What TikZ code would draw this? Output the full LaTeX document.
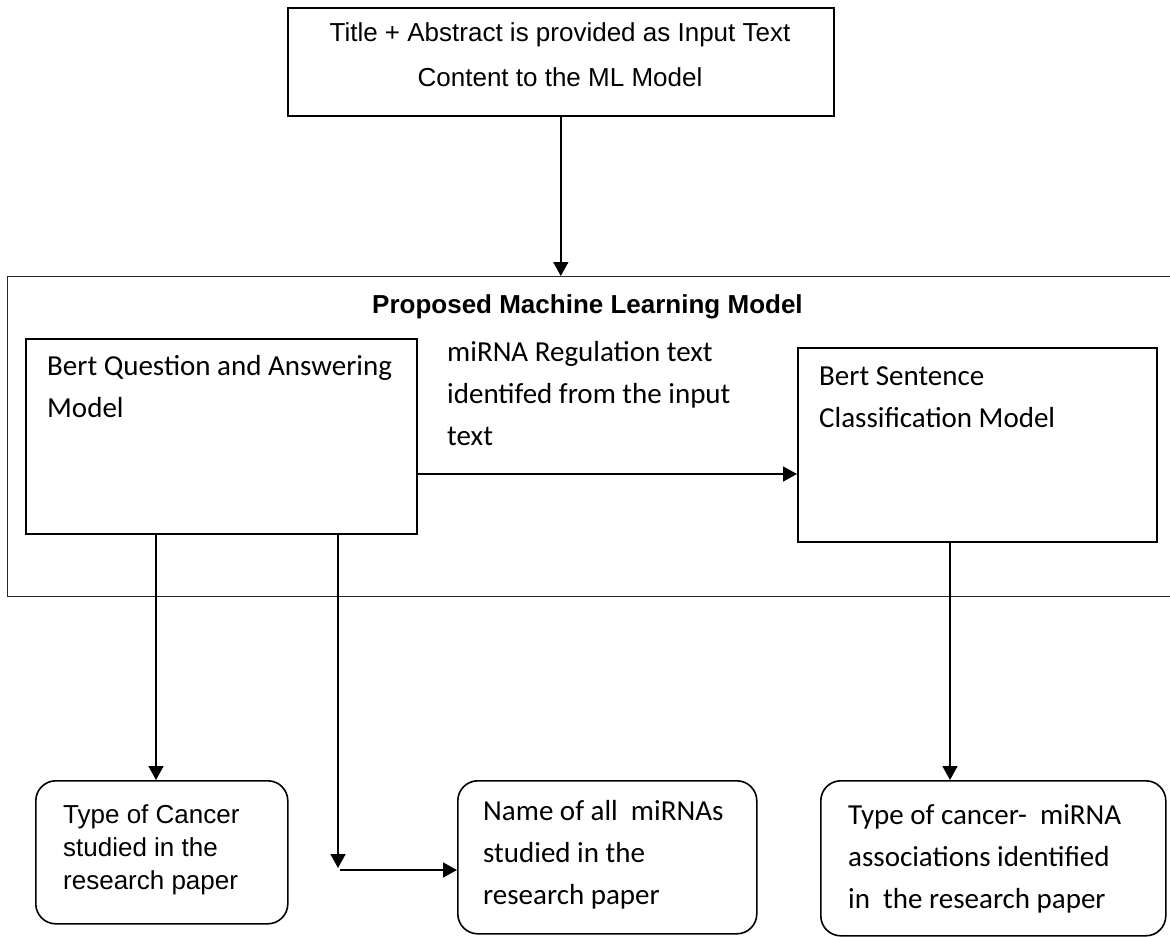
\documentclass[tikz,border=0pt]{standalone}
\usepackage{fontspec}
\setmainfont{Liberation Sans}
\newfontfamily\calfont{Carlito}
\usetikzlibrary{arrows.meta,calc}
\begin{document}
\begin{tikzpicture}[x=1pt,y=-1pt,
  box/.style={draw,line width=1.6pt,inner sep=0pt,anchor=north west},
  rbox/.style={box,rounded corners=20pt},
  outerbox/.style={draw=black!85,line width=1.4pt,inner sep=0pt,anchor=north west},
  arr/.style={line width=1.6pt,-{Triangle[width=15pt,length=14pt]}},
  atxt/.style={inner sep=0pt,anchor=base west,align=left,font=\fontsize{26}{33}\selectfont},
  ctxt/.style={inner sep=0pt,anchor=base west,align=left,font=\calfont\fontsize{29}{42}\selectfont},
]
\useasboundingbox (0,0) rectangle (1170,937);
% boxes
\node[box,minimum width=546pt,minimum height=108pt] (top) at (287,7) {};
\node[inner sep=0pt,anchor=base,align=center,font=\fontsize{26}{45}\selectfont] (toptext) at (560,86)
  {Title + Abstract is provided as Input Text\\Content to the ML Model};
\node[outerbox,minimum width=1200pt,minimum height=320pt] (ml) at (7,276) {};
\node[inner sep=0pt,anchor=base west,font=\bfseries\fontsize{26}{30}\selectfont] (mltitle) at (372,313)
  {Proposed Machine Learning Model};
\node[box,minimum width=391pt,minimum height=195pt] (qa) at (25,338) {};
\node[ctxt] (qatext) at (47,417) {Bert Question and Answering\\Model};
\node[box,minimum width=359pt,minimum height=194pt] (sc) at (797,347) {};
\node[ctxt] (sctext) at (819,427) {Bert Sentence\\Classification Model};
\node[ctxt] (lbl) at (447,445) {miRNA Regulation text\\identifed from the input\\text};
\node[rbox,minimum width=252pt,minimum height=143pt] (b1) at (35,780) {};
\node[atxt] (b1text) at (63,889) {Type of Cancer\\studied in the\\research paper};
\node[rbox,minimum width=299pt,minimum height=153pt] (b2) at (457,780) {};
\node[ctxt] (b2text) at (483,904) {Name of all\ \ miRNAs\\studied in the\\research paper};
\node[rbox,minimum width=345pt,minimum height=155pt] (b3) at (820,780) {};
\node[ctxt] (b3text) at (848,908) {Type of cancer-\ \ miRNA\\associations identified\\in\ \ the research paper};
% helper coordinates
\coordinate (xa) at (156,0);
\coordinate (xb) at (338,0);
\coordinate (xc) at (950,0);
\coordinate (ym) at (0,474);
\coordinate (tipb) at (338,868);
\coordinate (startb) at (340,870);
% connectors
\draw[arr] (top.south) -- (ml.north -| top.south);
\draw[arr] (qa.east |- ym) -- (sc.west |- ym);
\draw[arr] (qa.south -| xa) -- (b1.north -| xa);
\draw[arr] (qa.south -| xb) -- (tipb);
\draw[arr] (startb) -- (b2.west |- startb);
\draw[arr] (sc.south -| xc) -- (b3.north -| xc);
\end{tikzpicture}
\end{document}
